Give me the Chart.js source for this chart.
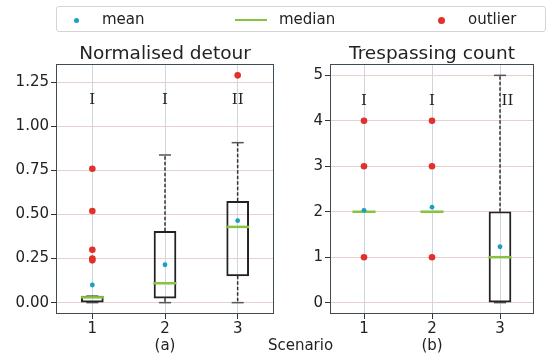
<!DOCTYPE html>
<html>
<head>
<meta charset="utf-8">
<script src="https://cdn.jsdelivr.net/npm/chart.js@4.4.0/dist/chart.umd.min.js"></script>
<style>
  body { margin: 0; background: #fff; }
  #wrap { position: relative; width: 548px; height: 357px; font-family: "DejaVu Sans", sans-serif; color: #222; }
  #wrap canvas { position: absolute; left: 0; top: 0; }
  #legend { position: absolute; left: 56px; top: 6px; width: 490px; height: 26px; border: 1px solid #d4d4d4; border-radius: 3px; box-sizing: border-box; }
  .lg { position: absolute; font-size: 15px; line-height: 15px; top: 5px; }
  .mk { position: absolute; }
  #scenario { position: absolute; left: 0; width: 601px; text-align: center; top: 336px; font-size: 15px; }
</style>
</head>
<body>
<div id="wrap">
  <canvas id="detour" width="548" height="357"></canvas>
  <canvas id="trespass" width="548" height="357"></canvas>
  <div id="legend">
    <div class="mk" style="left:17px;top:11px;width:5px;height:5px;border-radius:50%;background:#1a9fc2"></div>
    <div class="lg" style="left:45px">mean</div>
    <div class="mk" style="left:178px;top:12px;width:32px;height:2px;background:#86c440"></div>
    <div class="lg" style="left:222px">median</div>
    <div class="mk" style="left:381px;top:10px;width:7px;height:7px;border-radius:50%;background:#e2302b"></div>
    <div class="lg" style="left:411px">outlier</div>
  </div>
  <div id="scenario">Scenario</div>
</div>
<script>
var scenarios = [1, 2, 3];

// normalised detour
var detourQ1 = [0, 0.025, 0.152];
var detourQ3 = [0.037, 0.405, 0.575];
var detourMedian = [0.03, 0.11, 0.43];
var detourLow = [0, 0, 0];
var detourHigh = [0.037, 0.838, 0.908];
var detourMean = [0.10, 0.215, 0.465];
var detourOutliers = [[0.76, 0.52, 0.30, 0.25, 0.24], [], [1.29]];
var detourTicks = [0, 0.25, 0.5, 0.75, 1.0, 1.25];

// trespassing count
var trespassQ1 = [2, 2, 0];
var trespassQ3 = [2, 2, 2];
var trespassMedian = [2, 2, 1];
var trespassLow = [2, 2, 0];
var trespassHigh = [2, 2, 5];
var trespassMean = [2.03, 2.1, 1.23];
var trespassOutliers = [[1, 3, 4], [1, 3, 4], []];
var trespassTicks = [0, 1, 2, 3, 4, 5];

var groupLabels = ["I", "I", "II"];

Chart.defaults.font.family = "DejaVu Sans";
Chart.defaults.color = "#222";

var frameAndText = {
    id: "frameAndText",
    afterDraw: function(chart, args, opts) {
        var ctx = chart.ctx, a = chart.chartArea;
        ctx.save();
        ctx.strokeStyle = "#3f4b55";
        ctx.lineWidth = 1;
        ctx.strokeRect(a.left + 0.5, a.top + 0.5, a.right - a.left - 1, a.bottom - a.top - 1);
        ctx.fillStyle = "#222";
        ctx.textAlign = "center";
        ctx.textBaseline = "alphabetic";
        ctx.font = '18.5px "DejaVu Sans"';
        ctx.fillText(opts.title, (a.left + a.right) / 2, a.top - 5.5);
        ctx.font = '15px "DejaVu Serif"';
        ctx.textBaseline = "middle";
        for (var i = 0; i < groupLabels.length; i++) {
            ctx.fillText(groupLabels[i], chart.scales.x.getPixelForValue(opts.groupX[i]),
                chart.scales.y.getPixelForValue(opts.groupY));
        }
        ctx.restore();
    }
};

function boxChart(canvas, d) {
    var boxes = [], whiskers = [], caps = [], medians = [], means = [], outliers = [];
    scenarios.forEach(function(s, i) {
        boxes.push({x: s, y: [d.q1[i], d.q3[i]]});
        whiskers.push({x: s, y: d.q3[i]}, {x: s, y: d.high[i]}, {x: s, y: null},
                      {x: s, y: d.q1[i]}, {x: s, y: d.low[i]}, {x: s, y: null});
        caps.push({x: s, y: d.low[i]}, {x: s, y: d.high[i]});
        medians.push({x: s, y: d.median[i]});
        means.push({x: s, y: d.mean[i]});
        d.outliers[i].forEach(function(v) { outliers.push({x: s, y: v}); });
    });

    return new Chart(canvas, {
        type: "scatter",
        data: {
            datasets: [
                { type: "scatter", data: outliers, order: 1, pointRadius: 3.3,
                  backgroundColor: "#e2302b", borderWidth: 0 },
                { type: "scatter", data: means, order: 2, pointRadius: 2.4,
                  backgroundColor: "#1a9fc2", borderWidth: 0 },
                { type: "scatter", data: medians, order: 3, pointStyle: "line", pointRadius: 11.5,
                  borderColor: "#86c440", borderWidth: 2.5 },
                { type: "bar", data: boxes, order: 4, barThickness: 22, borderSkipped: false,
                  backgroundColor: "rgba(0,0,0,0)", borderColor: "#222", borderWidth: 1.3 },
                { type: "scatter", data: caps, order: 5, pointStyle: "line", pointRadius: 6,
                  borderColor: "#555", borderWidth: 1.5 },
                { type: "line", data: whiskers, order: 6, pointRadius: 0, spanGaps: false,
                  borderColor: "#333", borderWidth: 1.5, borderDash: [3.5, 2], fill: false }
            ]
        },
        options: {
            responsive: false,
            animation: false,
            events: [],
            layout: { padding: d.padding },
            plugins: {
                legend: { display: false },
                tooltip: { enabled: false },
                frameAndText: { title: d.title, groupX: d.groupX, groupY: d.groupY }
            },
            scales: {
                x: {
                    type: "linear", min: 0.5, max: 3.5, offset: false,
                    afterBuildTicks: function(scale) {
                        scale.ticks = scenarios.map(function(v) { return {value: v}; });
                    },
                    afterFit: function(scale) {
                        scale.height = 43;
                        scale.paddingLeft = 0;
                        scale.paddingRight = 0;
                    },
                    ticks: { font: { size: 15 }, padding: 1, color: "#222" },
                    grid: { color: "#ccd7df", tickColor: "#333", tickLength: 5, offset: false },
                    border: { display: false },
                    title: { display: true, text: d.sub, font: { size: 15 }, color: "#222",
                             padding: { top: 0, bottom: 1.5 } }
                },
                y: {
                    type: "linear", min: d.min, max: d.max,
                    afterBuildTicks: function(scale) {
                        scale.ticks = d.ticks.map(function(v) { return {value: v}; });
                    },
                    afterFit: function(scale) { scale.width = d.axisWidth; },
                    ticks: { font: { size: 15 }, padding: 2, color: "#222",
                             callback: function(v) { return v.toFixed(d.decimals); } },
                    grid: { color: "#e6d0d0", tickColor: "#333", tickLength: 5 },
                    border: { display: false }
                }
            }
        },
        plugins: [frameAndText]
    });
}

boxChart(document.getElementById("detour"), {
    q1: detourQ1, q3: detourQ3, median: detourMedian, low: detourLow, high: detourHigh,
    mean: detourMean, outliers: detourOutliers, ticks: detourTicks,
    min: -0.0645, max: 1.3545, decimals: 2,
    title: "Normalised detour", sub: "(a)",
    groupX: [1, 2, 3], groupY: 1.15,
    axisWidth: 56, padding: { left: 0, right: 274, top: 64, bottom: 0 }
});

boxChart(document.getElementById("trespass"), {
    q1: trespassQ1, q3: trespassQ3, median: trespassMedian, low: trespassLow, high: trespassHigh,
    mean: trespassMean, outliers: trespassOutliers, ticks: trespassTicks,
    min: -0.25, max: 5.25, decimals: 0,
    title: "Trespassing count", sub: "(b)",
    groupX: [1, 2, 3.11], groupY: 4.44,
    axisWidth: 40, padding: { left: 290, right: 3, top: 64, bottom: 0 }
});
</script>
</body>
</html>
